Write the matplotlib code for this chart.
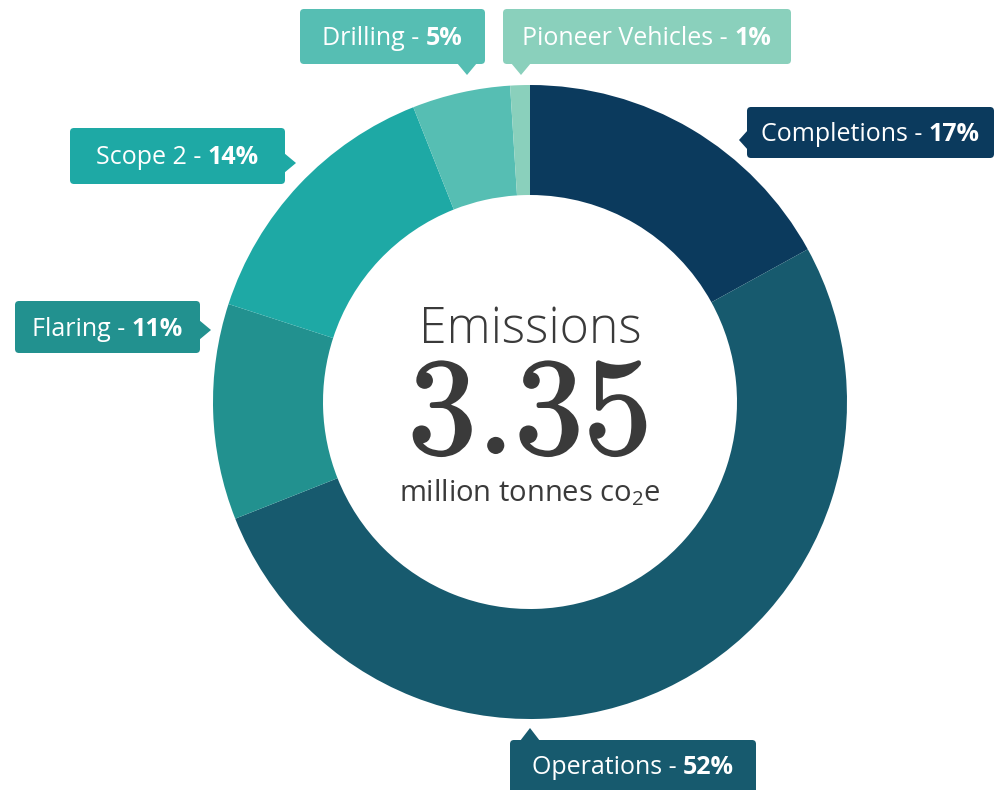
import os
import matplotlib
matplotlib.use("Agg")
import matplotlib.pyplot as plt
import matplotlib.patheffects as pe
from matplotlib import font_manager
from matplotlib.patches import FancyBboxPatch, Polygon

plt.rcParams['mathtext.fontset'] = 'custom'
plt.rcParams['mathtext.rm'] = 'Open Sans'

# data
categories = ["Completions", "Operations", "Flaring", "Scope 2", "Drilling", "Pioneer Vehicles"]
shares = [17, 52, 11, 14, 5, 1]
colors = ["#0b3a5d", "#175a6e", "#22918f", "#1ea9a5", "#56beb3", "#8ad0bc"]
total = "3.35"

# callout boxes: (x0, y0, x1, y1), pointer side, pointer pos, tip
boxes = {
    "Completions": ((747, 107, 994, 158), "left", 140, 739),
    "Operations": ((510, 740, 756, 795), "top", 530, 728),
    "Flaring": ((15, 301, 200, 353), "right", 330, 211),
    "Scope 2": ((70, 128, 285, 184), "right", 163, 296),
    "Drilling": ((300, 9, 485, 64), "bottom", 467, 75),
    "Pioneer Vehicles": ((503, 9, 791, 64), "bottom", 521, 75),
}

fig = plt.figure(figsize=(9.94, 7.90), dpi=100)
ax = fig.add_axes([0, 0, 1, 1])

cx, cy, r_out, r_in = 530, 402, 317, 207
ax.pie(shares, colors=colors, startangle=270, counterclock=True,
       center=(cx, cy), radius=r_out,
       wedgeprops=dict(width=r_out - r_in, linewidth=0))
ax.set_xlim(0, 994)
ax.set_ylim(790, 0)
ax.axis("off")

fig.canvas.draw()
renderer = fig.canvas.get_renderer()

for name, pct, col in zip(categories, shares, colors):
    (x0, y0, x1, y1), side, pos, tip = boxes[name]
    ax.add_patch(FancyBboxPatch((x0, y0), x1 - x0, y1 - y0,
                                boxstyle="round,pad=0,rounding_size=4",
                                fc=col, ec="none", zorder=3))
    h = 10
    if side == "left":
        pts = [(x0 + 1, pos - h), (tip, pos), (x0 + 1, pos + h)]
    elif side == "right":
        pts = [(x1 - 1, pos - h), (tip, pos), (x1 - 1, pos + h)]
    elif side == "top":
        pts = [(pos - h, y0 + 1), (pos, tip), (pos + h, y0 + 1)]
    else:
        pts = [(pos - h, y1 - 1), (pos, tip), (pos + h, y1 - 1)]
    ax.add_patch(Polygon(pts, closed=True, fc=col, ec="none", zorder=3))

    ty = (y0 + min(y1, 790)) / 2 + 2
    t1 = ax.text(0, ty, name + " - ", fontsize=18, family="Open Sans",
                 color="white", va="center", ha="left", zorder=4)
    t2 = ax.text(0, ty, f"{pct}%", fontsize=18, family="Open Sans",
                 fontweight="bold", color="white", va="center", ha="left", zorder=4)
    w1 = t1.get_window_extent(renderer).width
    w2 = t2.get_window_extent(renderer).width
    start = (x0 + x1) / 2 - (w1 + w2) / 2
    t1.set_x(start)
    t2.set_x(start + w1)

# centre text - big number in the bundled Computer Modern serif
serif_path = os.path.join(matplotlib.get_data_path(), "fonts", "ttf", "cmr10.ttf")
serif = font_manager.FontProperties(fname=serif_path, size=99)

ax.text(cx, 343, "Emissions", fontsize=36, family="Open Sans", fontweight="light",
        color="#3a3a3a", ha="center", va="baseline")
ax.text(cx, 453, total, fontproperties=serif, color="#3a3a3a", ha="center", va="baseline",
        path_effects=[pe.withStroke(linewidth=1.5, foreground="#3a3a3a")])
ax.text(cx, 501, r"million tonnes co$_2$e", fontsize=21, family="Open Sans",
        color="#3a3a3a", ha="center", va="baseline")

fig.savefig("out.png", dpi=100)
